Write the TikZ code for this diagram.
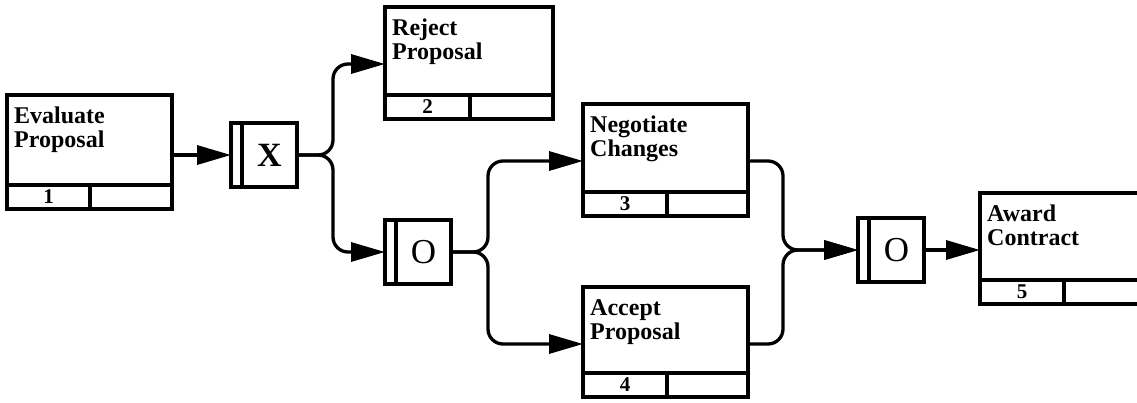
\documentclass[tikz,border=0pt]{standalone}
\usepackage{fontspec}
\setmainfont{Liberation Serif}
\usetikzlibrary{arrows.meta,calc}
\tikzset{
  x=1pt, y=-1pt,
  box/.style={draw, line width=3.3pt, anchor=north west, inner sep=0pt, outer sep=0pt},
  lbl/.style={anchor=north west, inner sep=0pt, align=left, font=\fontsize{24}{24}\selectfont\bfseries},
  num/.style={font=\fontsize{21}{21}\selectfont\bfseries},
  arr/.style={line width=3.3pt, -{Triangle[length=34pt,width=19pt]}, rounded corners=15pt},
}
% #1 name, #2 x, #3 y, #4 width, #5 main height, #6 left cell width, #7 label, #8 number
\newcommand\actbox[8]{%
  \node[box, minimum width=#4, minimum height=#5] (#1) at (#2,#3) {};
  \node[lbl] (#1t) at ($(#1.north west)+(7,12)$) {#7};
  \node[box, num, minimum width=#6, minimum height=24] (#1n) at (#1.south west) {#8};
  \node[box, minimum width=#4-#6, minimum height=24] (#1e) at (#1n.north east) {};
  \coordinate (#1in) at ($(#1.north west)+(0,57)$);
  \coordinate (#1out) at ($(#1.north east)+(0,57)$);
}
% #1 name, #2 x, #3 y, #4 text, #5 font
\newcommand\junc[5]{%
  \node[box, minimum width=11, minimum height=64] (#1s) at (#2,#3) {};
  \node[box, minimum width=55, minimum height=64, font=#5] (#1) at (#1s.north east) {#4};
}
\begin{document}
\begin{tikzpicture}
\useasboundingbox (0,0) rectangle (1137,402);

\actbox{b1}{7}{95}{165}{90}{83}{Evaluate\\Proposal}{1}
\actbox{b2}{385}{7}{168}{88}{85}{Reject\\Proposal}{2}
\actbox{b3}{583}{104}{165}{88}{84}{Negotiate\\Changes}{3}
\actbox{b4}{583}{287}{165}{86}{84}{Accept\\Proposal}{4}
\actbox{b5}{980}{193}{175}{87}{84}{Award\\Contract}{5}

\junc{xj}{231}{123}{X}{\fontsize{34}{34}\selectfont\bfseries}
\junc{oa}{385}{220}{O}{\fontsize{35}{35}\selectfont}
\junc{ob}{858}{218}{O}{\fontsize{35}{35}\selectfont}

\coordinate (br1) at ($(xj.east)+(36,0)$);
\coordinate (br2) at ($(oa.east)+(37,0)$);
\coordinate (mg) at ($(obs.west)+(-75,0)$);

\draw[arr] (b1.east |- xjs.west) -- (xjs.west);
\draw[arr] (xj.east) -- (br1) |- (b2in);
\draw[arr] (xj.east) -- (br1) |- (oas.west);
\draw[arr] (oa.east) -- (br2) |- (b3in);
\draw[arr] (oa.east) -- (br2) |- (b4in);
\draw[arr] (b3out) -| (mg) -- (obs.west);
\draw[arr] (b4out) -| (mg) -- (obs.west);
\draw[arr] (ob.east) -- (ob.east -| b5.west);
\end{tikzpicture}
\end{document}
